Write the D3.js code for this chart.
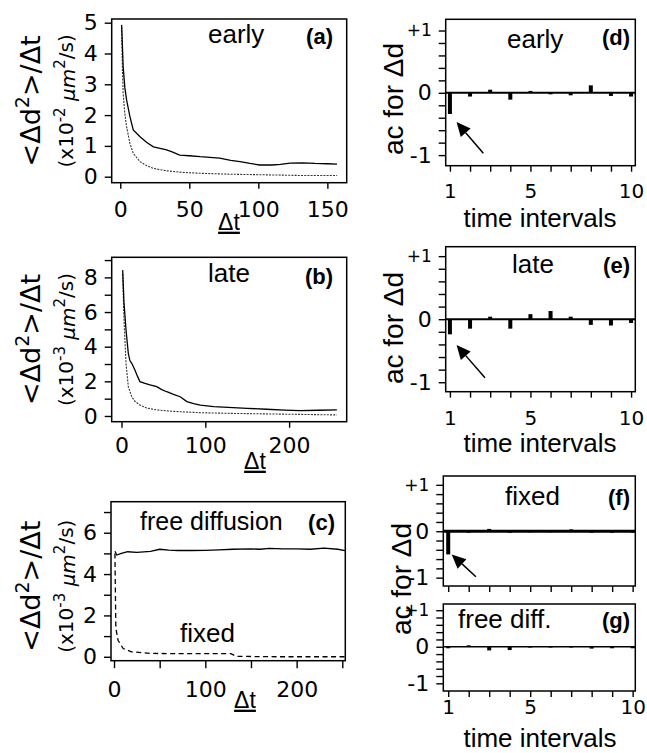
<!DOCTYPE html>
<html>
<head>
<meta charset="utf-8">
<script src="https://cdn.jsdelivr.net/npm/d3@7"></script>
<style>
body {margin: 0; background: #fff;}
text {fill: #000;}
</style>
</head>
<body>
<svg id="chart" width="647" height="753"></svg>
<script>
// ---- data ----
// (a) early: mean square displacement / dt, x10^-2 um^2/s
var tEarly = [1, 2.1, 3.3, 4.6, 7, 9.4, 12, 14.3, 19, 24, 28, 33.6, 38, 43, 50, 57.8, 65, 72, 80, 86.7, 94, 101, 110, 116, 123, 132, 141, 150, 157]
var earlySolid = [4.93, 3.57, 2.9, 2.49, 1.95, 1.52, 1.4, 1.3, 1.12, 0.97, 0.93, 0.87, 0.8, 0.7, 0.68, 0.65, 0.63, 0.6, 0.53, 0.49, 0.43, 0.38, 0.38, 0.4, 0.44, 0.45, 0.43, 0.42, 0.41]
var tEarlyFix = [1, 1.5, 2.1, 3.3, 4.6, 7, 9.4, 14.3, 19, 24, 33.6, 45, 57.8, 80, 106, 130, 157]
var earlyFixed = [4.85, 3.6, 2.7, 2.05, 1.62, 1.08, 0.76, 0.49, 0.36, 0.27, 0.19, 0.14, 0.11, 0.08, 0.06, 0.04, 0.04]

// (b) late, x10^-3 um^2/s
var tLate = [1.4, 3, 5.4, 8.1, 10, 12.2, 16, 19, 22, 28, 34, 42, 48, 54, 62, 70, 78, 86, 94, 110, 133, 150, 173, 195, 213, 235, 257]
var lateSolid = [8.42, 6.5, 4.96, 3.62, 3.2, 3.04, 2.65, 2.3, 1.98, 1.88, 1.79, 1.69, 1.52, 1.4, 1.25, 1.11, 0.83, 0.72, 0.63, 0.54, 0.48, 0.44, 0.39, 0.34, 0.31, 0.33, 0.35]
var tLateFix = [1.4, 3, 5.4, 8.1, 12.2, 16, 22, 30, 42, 60, 94, 130, 173, 215, 257]
var lateFixed = [8.2, 5.5, 3.04, 1.69, 1.11, 0.85, 0.63, 0.46, 0.35, 0.27, 0.19, 0.15, 0.12, 0.09, 0.06]

// (c) free diffusion vs fixed bead, x10^-3 um^2/s
var tFree = [1, 3, 8, 15, 25, 40, 50, 60, 70, 85, 100, 115, 130, 150, 160, 170, 185, 200, 215, 230, 245, 253]
var freeSolid = [5.1, 4.92, 5.0, 5.08, 5.05, 5.1, 5.2, 5.16, 5.14, 5.14, 5.15, 5.17, 5.2, 5.22, 5.2, 5.24, 5.22, 5.22, 5.2, 5.25, 5.2, 5.13]
var tFix = [1, 2, 4.4, 10, 19, 41, 80, 128, 134, 180, 253]
var fixedDashed = [5.0, 1.4, 0.8, 0.4, 0.24, 0.16, 0.15, 0.15, 0.02, 0.0, 0.0]

// (d)-(g) autocorrelation of steps for lags 1..10
var lags = [1, 2, 3, 4, 5, 6, 7, 8, 9, 10]
var acEarly = [-0.34, -0.06, 0.05, -0.11, 0.03, -0.02, -0.04, 0.12, -0.05, -0.06]
var acLate = [-0.24, -0.15, 0.04, -0.15, 0.08, 0.13, 0.04, -0.09, -0.10, -0.06]
var acFixed = [-0.50, 0.0, 0.05, 0.0, 0.01, 0.01, 0.04, 0.0, -0.03, 0.0]
var acFree = [0.0, 0.04, -0.1, -0.09, 0.02, 0.02, 0.02, -0.05, -0.04, 0.0]

var msdTicksA = [0, 1, 2, 3, 4, 5]
var msdTicksB = d3.range(0, 10)
var msdTicksC = d3.range(0, 8)
var acTicks = d3.range(-5, 6).map(d => d / 5)

var svg = d3.select('#chart')
var tickFont = 'DejaVu Sans'
var textFont = 'Liberation Sans'

function frame(p){
  var x = d3.scaleLinear().domain(p.xd).range([p.l, p.r])
  var y = d3.scaleLinear().domain(p.yd).range([p.b, p.t])
  var g = svg.append('g')

  var ya = g.append('g').attr('transform', 'translate(' + p.l + ',0)')
    .call(d3.axisLeft(y).tickValues(p.yTicks).tickSize(7).tickPadding(7)
      .tickFormat(p.yFmt))
  var xa = g.append('g').attr('transform', 'translate(0,' + p.b + ')')
    .call(d3.axisBottom(x).tickValues(p.xTicks).tickSize(p.xTickSize || 6)
      .tickFormat(p.xFmt))
  ;[ya, xa].forEach(a => {
    a.select('.domain').remove()
    a.selectAll('line').attr('stroke', '#000').attr('stroke-width', 1.4)
    a.selectAll('text').attr('font-family', tickFont).attr('font-size', 22).attr('fill', '#000')
  })
  xa.selectAll('text').attr('y', p.xLabY).attr('dy', null)
  if (p.xLabSize) xa.selectAll('text').attr('font-size', p.xLabSize)

  g.append('rect')
    .attr('x', p.l).attr('y', p.t).attr('width', p.r - p.l).attr('height', p.b - p.t)
    .attr('fill', 'none').attr('stroke', '#000').attr('stroke-width', 1.5)
  return {g, x, y, ya, xa}
}

function addText(g, txt, x, y, opts){
  opts = opts || {}
  return g.append('text').text(txt)
    .attr('x', x).attr('y', y)
    .attr('font-family', opts.font || textFont)
    .attr('font-size', opts.size || 26)
    .attr('font-weight', opts.bold ? 'bold' : null)
    .attr('text-anchor', opts.anchor || 'start')
}

// ---- left column: <Δd²>/Δt vs Δt ----
function msdPanel(p){
  var c = frame(p)
  var line = d3.line().x(d => c.x(d[0])).y(d => c.y(d[1]))
  p.series.forEach(s => {
    c.g.append('path')
      .datum(d3.zip(s.t, s.v))
      .attr('d', line)
      .attr('fill', 'none')
      .attr('stroke', s.color || '#000')
      .attr('stroke-width', s.width || 1.3)
      .attr('stroke-dasharray', s.dash)
  })

  // y label, two lines
  var cy = (p.t + p.b) / 2 + p.labOff
  var l1 = c.g.append('text')
    .attr('transform', 'translate(40,' + cy + ') rotate(-90)')
    .attr('text-anchor', 'middle').attr('font-family', tickFont).attr('font-size', 27)
  l1.append('tspan').text('<Δd')
  l1.append('tspan').text('2').attr('font-size', 19).attr('dy', -11)
  l1.append('tspan').text('>/Δt').attr('dy', 11)

  var l2 = c.g.append('text')
    .attr('transform', 'translate(73,' + cy + ') rotate(-90)')
    .attr('text-anchor', 'middle').attr('font-family', tickFont).attr('font-size', 20)
  l2.append('tspan').text('(x10')
  l2.append('tspan').text(p.exp).attr('font-size', 15).attr('dy', -8)
  l2.append('tspan').text(' μm').attr('font-style', 'italic').attr('dy', 10)
  l2.append('tspan').text('2').attr('font-size', 15).attr('dy', -10)
  l2.append('tspan').text('/s)').attr('dy', 8)

  addText(c.g, 'Δt', p.dtX, p.b + 47, {size: 23, anchor: 'middle'})
    .style('text-decoration', 'underline')
  p.notes.forEach(n => addText(c.g, n[0], n[1], n[2], n[3]))
  return c
}

var fmtInt = d => d

msdPanel({
  l: 111.7, r: 346.7, t: 19, b: 182.7, xd: [-6.2, 164], yd: [-0.195, 5.12],
  yTicks: msdTicksA, yFmt: fmtInt, xTicks: [0, 50, 100, 150], xFmt: fmtInt, xLabY: 34,
  exp: '-2', labOff: 0, dtX: 229,
  series: [
    {t: tEarlyFix, v: earlyFixed, dash: '2,1.2', width: 1.1, color: '#333'},
    {t: tEarly, v: earlySolid}
  ],
  notes: [['early', 208, 43], ['(a)', 333, 44, {bold: true, size: 22, anchor: 'end'}]]
})

msdPanel({
  l: 111.7, r: 346.7, t: 257.3, b: 421.7, xd: [-11.7, 268.7], yd: [-0.33, 9.16],
  yTicks: msdTicksB, yFmt: d => d % 2 ? '' : d, xTicks: [0, 100, 200], xFmt: fmtInt, xLabY: 31.5,
  exp: '-3', labOff: 0, dtX: 255,
  series: [
    {t: tLateFix, v: lateFixed, dash: '2,1.2', width: 1.1, color: '#333'},
    {t: tLate, v: lateSolid}
  ],
  notes: [['late', 208, 282], ['(b)', 333, 284, {bold: true, size: 22, anchor: 'end'}]]
})

msdPanel({
  l: 111, r: 345.3, t: 501.7, b: 660.7, xd: [-3.3, 253.3], yd: [-0.19, 7.5],
  yTicks: msdTicksC, yFmt: d => d % 2 ? '' : d, xTicks: d3.range(0, 251, 50),
  xFmt: d => d % 100 ? '' : d, xLabY: 36, xTickSize: 7.5,
  exp: '-3', labOff: 5, dtX: 245,
  series: [
    {t: tFix, v: fixedDashed, dash: '5,3.5', width: 1.3},
    {t: tFree, v: freeSolid}
  ],
  notes: [['free diffusion', 140, 530, {size: 25}], ['(c)', 335, 530, {bold: true, size: 22, anchor: 'end'}],
    ['fixed', 180, 642]]
})

// ---- right column: autocorrelation of Δd ----
function acFmt(d){
  if (Math.abs(d - 1) < 1e-9) return '+1'
  if (Math.abs(d) < 1e-9) return '0'
  if (Math.abs(d + 1) < 1e-9) return '-1'
  return ''
}

function acPanel(p){
  var c = frame(Object.assign({yTicks: acTicks, yFmt: acFmt, xTicks: lags,
    xFmt: d => p.showX && (d == 1 || d == 5 || d == 10) ? d : '', xLabSize: 20}, p))
  c.ya.selectAll('text').filter(d => Math.abs(d - 1) < 1e-9).attr('font-size', 17)

  c.g.selectAll('rect.bar').data(d3.zip(lags, p.ac)).join('rect')
    .attr('class', 'bar')
    .attr('x', d => c.x(d[0]) - 2)
    .attr('width', 4)
    .attr('y', d => Math.min(c.y(0), c.y(d[1])))
    .attr('height', d => Math.max(1.5, Math.abs(c.y(d[1]) - c.y(0))))
    .attr('fill', '#000')

  c.g.append('line')
    .attr('x1', p.l).attr('x2', p.r).attr('y1', c.y(0)).attr('y2', c.y(0))
    .attr('stroke', '#000').attr('stroke-width', p.zeroW || 2)

  if (p.arrow) {
    var a = p.arrow
    var x1 = c.x(a[0]), y1 = c.y(a[1]), x2 = c.x(a[2]), y2 = c.y(a[3])
    var ang = Math.atan2(y2 - y1, x2 - x1)
    var hl = 14, hw = 6.5
    var bx = x2 - hl * Math.cos(ang), by = y2 - hl * Math.sin(ang)
    c.g.append('line').attr('x1', x1).attr('y1', y1).attr('x2', bx).attr('y2', by)
      .attr('stroke', '#000').attr('stroke-width', 1.5)
    c.g.append('path')
      .attr('d', 'M' + x2 + ',' + y2 +
        'L' + (bx + hw * Math.sin(ang)) + ',' + (by - hw * Math.cos(ang)) +
        'L' + (bx - hw * Math.sin(ang)) + ',' + (by + hw * Math.cos(ang)) + 'Z')
      .attr('fill', '#000')
  }
  p.notes.forEach(n => addText(c.g, n[0], n[1], n[2], n[3]))
  return c
}

function acLabel(x, cy){
  svg.append('text').text('ac for Δd')
    .attr('transform', 'translate(' + x + ',' + cy + ') rotate(-90)')
    .attr('text-anchor', 'middle').attr('font-family', textFont).attr('font-size', 28)
}

function timeLabel(cx, y){
  addText(svg, 'time intervals', cx, y, {anchor: 'middle'})
}

acPanel({
  l: 445.7, r: 635.3, t: 19.3, b: 165.7, xd: [0.79, 10.21], yd: [-1.17, 1.18],
  ac: acEarly, showX: true, xLabY: 32, arrow: [2.66, -0.97, 1.33, -0.47],
  notes: [['early', 507, 48], ['(d)', 630, 45, {bold: true, size: 22, anchor: 'end'}]]
})
acLabel(403, 99)
timeLabel(540, 227)

acPanel({
  l: 445.7, r: 635.3, t: 246.7, b: 391.7, xd: [0.79, 10.21], yd: [-1.15, 1.15],
  ac: acLate, showX: true, xLabY: 33, arrow: [2.74, -0.93, 1.33, -0.41],
  notes: [['late', 512, 273], ['(e)', 630, 273, {bold: true, size: 22, anchor: 'end'}]]
})
acLabel(403, 328)
timeLabel(540, 452)

acPanel({
  l: 443.3, r: 635.3, t: 476, b: 586, xd: [0.76, 10.13], yd: [-1.18, 1.19],
  ac: acFixed, showX: false, xLabY: 30, zeroW: 3, arrow: [2.35, -0.98, 1.17, -0.5],
  notes: [['fixed', 505, 505], ['(f)', 630, 505, {bold: true, size: 22, anchor: 'end'}]]
})
acPanel({
  l: 443.3, r: 635.3, t: 604, b: 691, xd: [0.76, 10.13], yd: [-1.21, 1.17],
  ac: acFree, showX: true, xLabY: 22.5, zeroW: 1.5,
  notes: [['free diff.', 458, 628], ['(g)', 630, 628, {bold: true, size: 22, anchor: 'end'}]]
})
acLabel(411, 579)
timeLabel(540, 747)
</script>
</body>
</html>
